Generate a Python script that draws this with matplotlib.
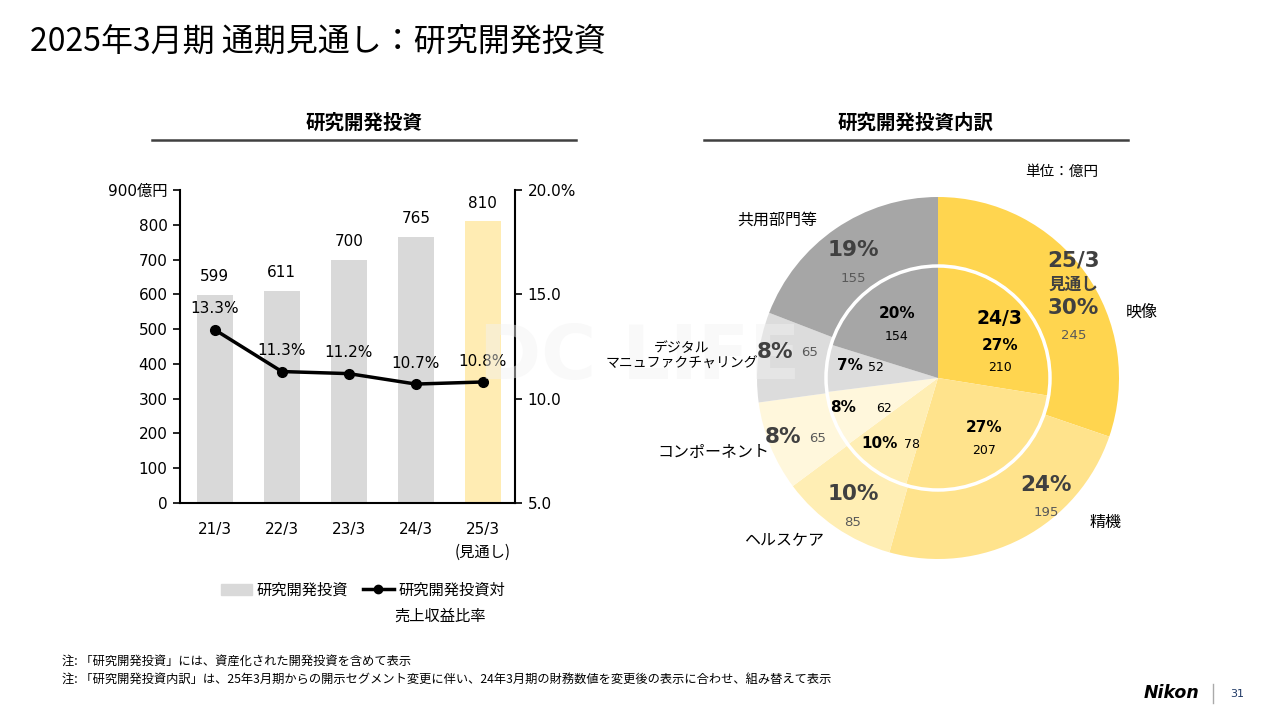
import numpy as np
import matplotlib.pyplot as plt
from matplotlib.lines import Line2D
from matplotlib.patches import Patch, Circle

plt.rcParams['font.family'] = ['DejaVu Sans', 'Noto Sans CJK JP']
JP = ['Noto Sans CJK JP', 'DejaVu Sans']

# --- data: R&D investment (bars) and ratio to revenue (line) ---
years = ['21/3', '22/3', '23/3', '24/3', '25/3']
rd_invest = [599, 611, 700, 765, 810]
rd_ratio = [13.3, 11.3, 11.2, 10.7, 10.8]

# --- data: breakdown (outer = 25/3 forecast, inner = 24/3) ---
segments = ['映像', '精機', 'ヘルスケア', 'コンポーネント', 'デジタル\nマニュファクチャリング', '共用部門等']
outer_vals = [245, 195, 85, 65, 65, 155]
outer_pct = ['30%', '24%', '10%', '8%', '8%', '19%']
inner_vals = [210, 207, 78, 62, 52, 154]
inner_pct = ['27%', '27%', '10%', '8%', '7%', '20%']

seg_colors = ['#FFD54F', '#FFE38C', '#FFEEB4', '#FFF7DC', '#DCDCDC', '#A6A6A6']

W, H = 1278, 718
fig = plt.figure(figsize=(W / 100, H / 100), dpi=100)


def fx(px):
    return px / W


def fy(py):
    return 1 - py / H


# --- header ---
fig.text(fx(30), fy(42), '2025年3月期 通期見通し：研究開発投資', fontsize=23,
         family=JP, va='center', ha='left')
for title, x0, x1 in [('研究開発投資', 152, 576), ('研究開発投資内訳', 704, 1128)]:
    fig.text(fx((x0 + x1) / 2), fy(123), title, fontsize=14, fontweight='bold',
             family=JP, ha='center', va='center')
    fig.add_artist(Line2D([fx(x0), fx(x1)], [fy(140), fy(140)], color='#404040', lw=1.8))

# --- bar + line chart ---
ax = fig.add_axes([fx(180), fy(503), fx(515) - fx(180), fy(190) - fy(503)])
x = np.arange(len(years))
bar_colors = ['#D9D9D9'] * 4 + ['#FFECB3']
ax.bar(x, rd_invest, width=0.53, color=bar_colors, zorder=1)
for xi, v in zip(x, rd_invest):
    ax.annotate(f'{v}', (xi, v), xytext=(0, 13), textcoords='offset points',
                ha='center', va='center', fontsize=11)
ax.set_xlim(-0.52, 4.48)
ax.set_ylim(0, 900)
ax.set_yticks(range(0, 901, 100))
ax.set_yticklabels([str(v) for v in range(0, 900, 100)] + ['900億円'], fontsize=11)
ax.set_xticks(x)
ax.set_xticklabels(years, fontsize=11)
ax.tick_params(axis='x', length=0, pad=14)
ax.tick_params(axis='y', length=5, width=1.2, direction='out', pad=4)
ax.spines['top'].set_visible(False)
ax.spines['right'].set_visible(False)
ax.spines['left'].set_linewidth(1.5)
ax.spines['bottom'].set_linewidth(1.5)
fig.text(fx(483), fy(552), '(見通し)', fontsize=11, family=JP, ha='center', va='center')

ax2 = ax.twinx()
ax2.set_ylim(5, 20)
ax2.set_yticks([5, 10, 15, 20])
ax2.set_yticklabels(['5.0', '10.0', '15.0', '20.0%'], fontsize=11)
ax2.tick_params(axis='y', length=5, width=1.2, direction='out', pad=4)
for s in ['top', 'left', 'bottom']:
    ax2.spines[s].set_visible(False)
ax2.spines['right'].set_linewidth(1.5)
ax2.plot(x, rd_ratio, color='black', lw=2.5, marker='o', markersize=7, zorder=3)
for xi, v in zip(x, rd_ratio):
    ax2.annotate(f'{v:.1f}%', (xi, v), xytext=(0, 15), textcoords='offset points',
                 ha='center', va='center', fontsize=11)

# legend
handles = [Patch(color='#D9D9D9'),
           Line2D([0], [0], color='black', lw=2.5, marker='o', markersize=6)]
fig.legend(handles, ['研究開発投資', '研究開発投資対'], ncol=2, frameon=False,
           loc='center', bbox_to_anchor=(fx(363), fy(590)), prop={'family': JP, 'size': 11},
           handlelength=2.0, handletextpad=0.3, columnspacing=1.0)
fig.text(fx(394), fy(616), '売上収益比率', fontsize=11, family=JP, va='center', ha='left')

# --- donut chart ---
cx, cy, R = 938, 378, 181
half = 230
pax = fig.add_axes([fx(cx - half), fy(cy + half), 2 * half / W, 2 * half / H])
pax.pie(outer_vals, radius=1, colors=seg_colors, startangle=90, counterclock=False,
        wedgeprops=dict(width=1 - 113 / R, edgecolor='none'))
pax.pie(inner_vals, radius=112 / R, colors=seg_colors, startangle=90, counterclock=False,
        wedgeprops=dict(edgecolor='none'))
pax.add_patch(Circle((0, 0), 112 / R, fill=False, ec='white', lw=2.5, zorder=5))
pax.set_xlim(-half / R, half / R)
pax.set_ylim(-half / R, half / R)
pax.axis('off')

fig.text(fx(1062), fy(172), '単位：億円', fontsize=10.5, family=JP, ha='center', va='center')

# segment names (label layout in pixels)
name_pos = [(1142, 312), (1106, 522), (784, 540), (713, 452), (682, 356), (777, 220)]
name_size = [11.5, 11.5, 11.5, 11.5, 10, 11.5]
for name, (px, py), fs in zip(segments, name_pos, name_size):
    fig.text(fx(px), fy(py), name, fontsize=fs, family=JP, ha='center', va='center',
             linespacing=1.2)

DG = '#404040'
NG = '#595959'
# outer labels: (pct pos, value pos)
outer_layout = [((1073, 308), (1074, 335)), ((1046, 485), (1046, 512)),
                ((853, 494), (853, 522)), ((783, 437), (818, 438)),
                ((775, 352), (810, 353)), ((853, 250), (853, 279))]
for (p1, p2), pct, v in zip(outer_layout, outer_pct, outer_vals):
    fig.text(fx(p1[0]), fy(p1[1]), pct, fontsize=15.5, fontweight='bold', color=DG,
             ha='center', va='center')
    fig.text(fx(p2[0]), fy(p2[1]), str(v), fontsize=9.5, color=NG,
             ha='center', va='center')
fig.text(fx(1074), fy(260), '25/3', fontsize=15.5, fontweight='bold', color=DG, ha='center', va='center')
fig.text(fx(1073), fy(285), '見通し', fontsize=12, fontweight='bold', color=DG, family=JP,
         ha='center', va='center')

# inner labels
inner_layout = [((1000, 345), (1000, 367)), ((984, 427), (984, 450)),
                ((880, 443), (912, 444)), ((843, 408), (884, 409)),
                ((850, 366), (876, 367)), ((897, 313), (897, 336))]
for (p1, p2), pct, v in zip(inner_layout, inner_pct, inner_vals):
    fig.text(fx(p1[0]), fy(p1[1]), pct, fontsize=11, fontweight='bold', color='black',
             ha='center', va='center')
    fig.text(fx(p2[0]), fy(p2[1]), str(v), fontsize=9, color='black',
             ha='center', va='center')
fig.text(fx(1000), fy(318), '24/3', fontsize=13.5, fontweight='bold', color='black',
         ha='center', va='center')

# watermark (very faint)
fig.text(fx(640), fy(358), 'DC LIFE', fontsize=54, fontweight='bold', color='#f2f2f2',
         alpha=0.45, ha='center', va='center', zorder=0.5)

# --- footnotes ---
fig.text(fx(62), fy(661), '注: 「研究開発投資」には、資産化された開発投資を含めて表示', fontsize=8.8,
         family=JP, va='center')
fig.text(fx(62), fy(679), '注: 「研究開発投資内訳」は、25年3月期からの開示セグメント変更に伴い、24年3月期の財務数値を変更後の表示に合わせ、組み替えて表示',
         fontsize=8.8, family=JP, va='center')
fig.text(fx(1172), fy(693), 'Nikon', fontsize=12.5, fontweight='heavy', style='italic',
         ha='center', va='center')
fig.add_artist(Line2D([fx(1213), fx(1213)], [fy(684), fy(703)], color='#aaaaaa', lw=1))
fig.text(fx(1237), fy(694), '31', fontsize=8, color='#1F3864', ha='center', va='center')

fig.savefig('out.png', dpi=100)
